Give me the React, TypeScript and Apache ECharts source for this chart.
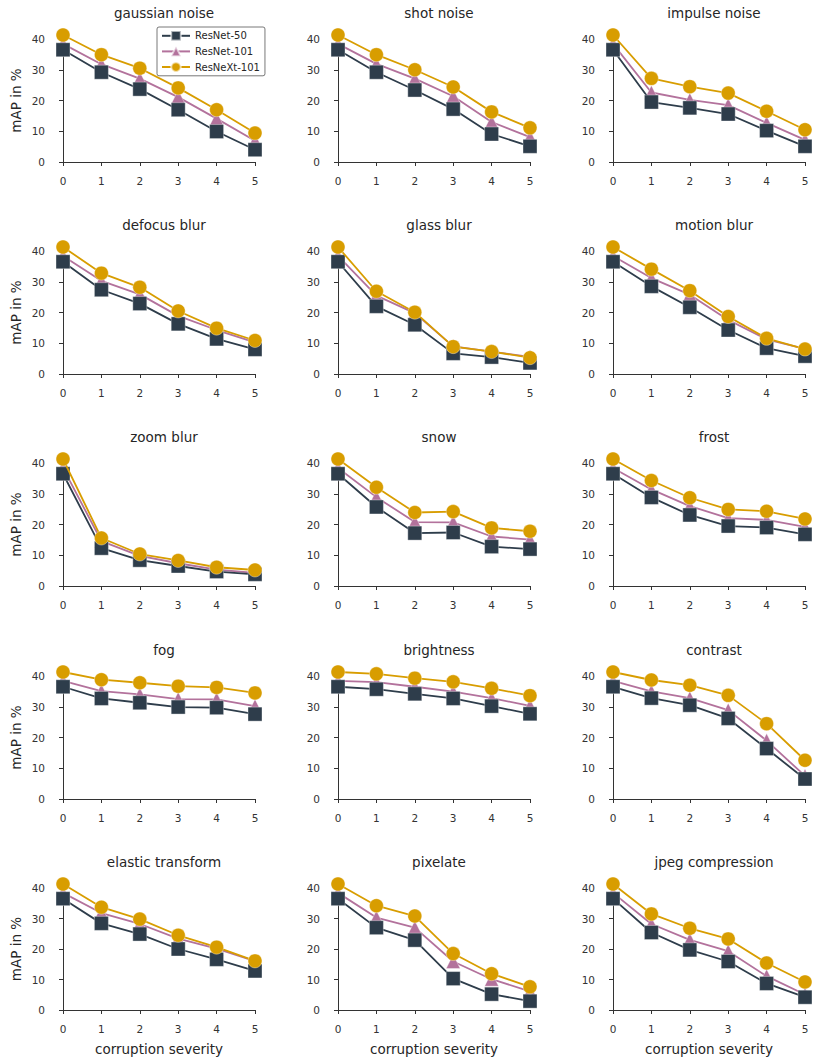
import React, { useEffect, useRef } from "react";
import * as echarts from "echarts";

const severities = [0, 1, 2, 3, 4, 5];
const seriesNames = ["ResNet-50", "ResNet-101", "ResNeXt-101"];
const corruptions = [
  "gaussian noise", "shot noise", "impulse noise",
  "defocus blur", "glass blur", "motion blur",
  "zoom blur", "snow", "frost",
  "fog", "brightness", "contrast",
  "elastic transform", "pixelate", "jpeg compression",
];

// values per corruption: [ResNet-50, ResNet-101, ResNeXt-101]
const resnet50 = [
  [36.5, 29.2, 23.7, 17.0, 9.9, 4.0],
  [36.5, 29.2, 23.4, 17.2, 9.1, 5.1],
  [36.5, 19.5, 17.6, 15.6, 10.2, 5.1],
  [36.5, 27.4, 22.9, 16.3, 11.4, 8.0],
  [36.5, 22.0, 16.0, 6.7, 5.5, 3.6],
  [36.5, 28.5, 21.7, 14.3, 8.4, 5.8],
  [36.5, 12.3, 8.4, 6.5, 4.7, 3.8],
  [36.5, 25.7, 17.2, 17.4, 12.8, 12.0],
  [36.5, 28.8, 23.1, 19.5, 19.0, 16.8],
  [36.5, 32.7, 31.3, 29.9, 29.7, 27.6],
  [36.5, 35.7, 34.2, 32.7, 30.2, 27.7],
  [36.5, 32.8, 30.5, 26.2, 16.4, 6.5],
  [36.5, 28.4, 24.9, 20.0, 16.6, 12.8],
  [36.5, 27.0, 22.9, 10.3, 5.2, 2.9],
  [36.5, 25.4, 19.7, 15.9, 8.7, 4.2],
];
const resnet101 = [
  [38.4, 31.8, 27.1, 21.1, 14.1, 6.9],
  [38.4, 31.9, 27.1, 21.4, 13.0, 8.1],
  [38.4, 22.6, 20.2, 18.5, 12.7, 7.2],
  [38.4, 30.3, 25.9, 18.9, 14.3, 10.3],
  [38.4, 25.5, 19.8, 9.0, 7.3, 5.6],
  [38.4, 31.2, 25.8, 17.6, 11.3, 8.2],
  [38.4, 14.6, 9.8, 7.4, 5.3, 4.3],
  [38.4, 28.9, 20.8, 20.7, 16.1, 15.1],
  [38.4, 31.4, 26.0, 22.1, 21.5, 19.2],
  [38.4, 35.1, 34.0, 32.5, 32.4, 30.2],
  [38.4, 38.0, 36.5, 34.9, 32.8, 30.3],
  [38.4, 35.0, 32.8, 28.9, 19.0, 7.5],
  [38.4, 31.8, 28.2, 23.4, 20.1, 16.0],
  [38.4, 30.3, 27.0, 15.9, 10.1, 6.1],
  [38.4, 28.2, 23.0, 19.3, 11.1, 5.1],
];
const resnext101 = [
  [41.3, 34.9, 30.5, 24.1, 17.0, 9.4],
  [41.3, 34.9, 30.0, 24.4, 16.3, 11.1],
  [41.3, 27.2, 24.5, 22.4, 16.5, 10.5],
  [41.3, 32.8, 28.2, 20.5, 14.9, 10.9],
  [41.3, 26.9, 20.1, 8.9, 7.3, 5.3],
  [41.3, 34.1, 27.1, 18.7, 11.6, 8.1],
  [41.3, 15.6, 10.4, 8.3, 6.1, 5.2],
  [41.3, 32.1, 23.9, 24.2, 18.9, 17.8],
  [41.3, 34.3, 28.7, 24.9, 24.3, 21.8],
  [41.3, 38.8, 37.8, 36.7, 36.3, 34.5],
  [41.3, 40.7, 39.3, 38.1, 36.0, 33.6],
  [41.3, 38.7, 37.0, 33.7, 24.5, 12.6],
  [41.3, 33.7, 29.8, 24.5, 20.6, 16.1],
  [41.3, 34.2, 30.8, 18.5, 11.9, 7.6],
  [41.3, 31.5, 26.8, 23.3, 15.4, 9.2],
];

const colors = ["#2e3d4b", "#b3729c", "#d89d00"];
const symbols = ["rect", "triangle", "circle"];
const symbolSizes = [14, 14, 14];
const zOrder = [3, 2, 4];

const colLeft = [63, 338, 613];
const rowTop = [39, 251, 463, 676, 888];
const gridW = 192;
const gridH = 123;
const FONT = "DejaVu Sans";
const TXT = "#262626";

export default function App() {
  const ref = useRef<HTMLDivElement>(null);
  useEffect(() => {
    if (!ref.current) return;
    const chart = echarts.init(ref.current, undefined, { renderer: "svg" });
    const grids: any[] = [];
    const xAxes: any[] = [];
    const yAxes: any[] = [];
    const titles: any[] = [];
    const series: any[] = [];
    const data = [resnet50, resnet101, resnext101];
    corruptions.forEach((name, i) => {
      const r = Math.floor(i / 3);
      const c = i % 3;
      grids.push({ left: colLeft[c], top: rowTop[r], width: gridW, height: gridH, containLabel: false });
      titles.push({
        text: name,
        left: colLeft[c] + gridW / 2,
        top: rowTop[r] - 38,
        textAlign: "center",
        textStyle: { fontFamily: FONT, fontSize: 13.5, fontWeight: "normal", color: TXT },
      });
      xAxes.push({
        type: "value",
        gridIndex: i,
        min: 0,
        max: 5,
        interval: 1,
        offset: 8,
        name: r === 4 ? "corruption severity" : "",
        nameLocation: "middle",
        nameGap: 24,
        nameTextStyle: { fontFamily: FONT, fontSize: 13.5, color: TXT },
        axisLine: { show: true, lineStyle: { color: "#333", width: 1 } },
        axisTick: { show: true, length: 4, lineStyle: { color: "#333" } },
        axisLabel: { fontFamily: FONT, fontSize: 10.5, color: "#333", margin: 5 },
        splitLine: { show: false },
      });
      yAxes.push({
        type: "value",
        gridIndex: i,
        min: 0,
        max: 40,
        interval: 10,
        offset: 13,
        name: c === 0 ? "mAP in %" : "",
        nameLocation: "middle",
        nameGap: 27,
        nameRotate: 90,
        nameTextStyle: { fontFamily: FONT, fontSize: 13.5, color: TXT },
        axisLine: { show: true, lineStyle: { color: "#333", width: 1 } },
        axisTick: { show: true, length: 4, lineStyle: { color: "#333" } },
        axisLabel: { fontFamily: FONT, fontSize: 10.5, color: "#333", margin: 5 },
        splitLine: { show: false },
      });
      for (let s = 0; s < 3; s++) {
        series.push({
          type: "line",
          name: seriesNames[s],
          xAxisIndex: i,
          yAxisIndex: i,
          z: zOrder[s],
          data: severities.map((x, k) => [x, data[s][i][k]]),
          symbol: symbols[s],
          symbolSize: symbolSizes[s],
          clip: false,
          color: colors[s],
          lineStyle: { color: colors[s], width: 1.8 },
          itemStyle: { color: colors[s], borderColor: "rgba(255,255,255,0.6)", borderWidth: 0.6 },
          emphasis: { disabled: true },
        });
      }
    });
    chart.setOption({
      animation: false,
      backgroundColor: "#ffffff",
      title: titles,
      grid: grids,
      xAxis: xAxes,
      yAxis: yAxes,
      series,
      legend: {
        data: seriesNames,
        orient: "vertical",
        left: 157,
        top: 27,
        z: 10,
        itemWidth: 28,
        itemHeight: 12,
        itemGap: 4,
        padding: [3, 5, 3, 4],
        borderColor: "#555",
        borderWidth: 0.8,
        borderRadius: 2,
        backgroundColor: "#fff",
        textStyle: { fontFamily: FONT, fontSize: 10, color: TXT },
      },
    });
    return () => chart.dispose();
  }, []);
  return <div ref={ref} style={{ width: 813, height: 1057, position: "absolute", left: 0, top: 0 }} />;
}
